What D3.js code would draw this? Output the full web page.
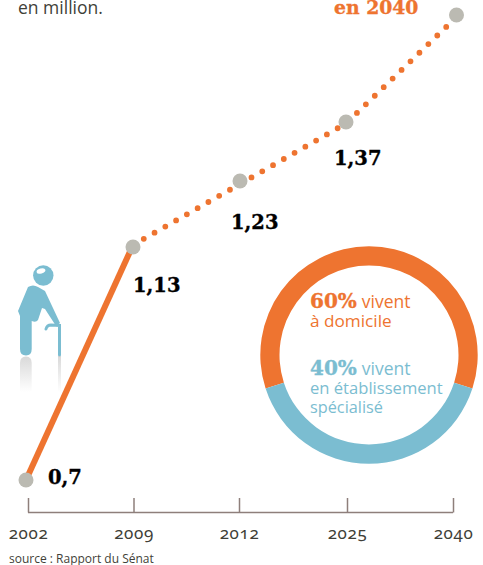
<!DOCTYPE html>
<html>
<head>
<meta charset="utf-8">
<script src="https://cdn.jsdelivr.net/npm/d3@7"></script>
<style>
	html, body { margin: 0; background: #fff; }
	svg { display: block; }
	text { font-family: "Open Sans", "Noto Sans", sans-serif; }
	.slab { font-family: "DejaVu Serif", serif; font-weight: 700; stroke: currentColor; stroke-width: 0.35; }
	.tick text { font-variant-numeric: oldstyle-nums; font-feature-settings: "onum"; }
</style>
</head>
<body>
<figure id="chart" style="margin:0"></figure>
<script>
// values (2040 is not labelled, estimated from the slope)
const years = ["2002", "2009", "2012", "2025", "2040"];
const values = [0.7, 1.13, 1.23, 1.37, 1.62];
const valueLabels = ["0,7", "1,13", "1,23", "1,37", null];
const careShares = [60, 40];

const orange = "#ee7430";
const blue = "#7bbdd1";
const grey = "#bbbab2";
const ink = "#3f3f38";

const svg = d3.select("figure#chart").append("svg")
	.attr("width", 483)
	.attr("height", 565)
	.attr("viewBox", "0 0 483 565");

// the axis is not regular, the drawing is stretched between the years
const xAxisScale = d3.scaleOrdinal().domain(years).range([28, 133.5, 239, 347, 453]);
const xDot = d3.scaleOrdinal().domain(years).range([26, 133, 240, 346, 456.5]);
const yDot = d3.scaleLinear().domain(values).range([480, 247, 181, 122, 15]);
const yLine = d3.scaleLinear().domain(values).range([480, 245, 184, 123.5, 17]);

const rows = years.map((year, i) => ({ year, value: values[i], label: valueLabels[i] }));

const line = d3.line()
	.x((d) => xDot(d.year))
	.y((d) => yLine(d.value));

// solid until 2009, dotted afterwards
svg.append("path")
	.attr("d", line(rows.slice(0, 2)))
	.attr("fill", "none")
	.attr("stroke", orange)
	.attr("stroke-width", 6);

svg.append("path")
	.attr("d", line(rows.slice(1)))
	.attr("fill", "none")
	.attr("stroke", orange)
	.attr("stroke-width", 5.8)
	.attr("stroke-linecap", "round")
	.attr("stroke-dasharray", "0 12.4");

svg.selectAll(".point")
	.data(rows)
	.enter()
	.append("circle")
	.attr("class", "point")
	.attr("cx", (d) => xDot(d.year))
	.attr("cy", (d) => yDot(d.value))
	.attr("r", 7.5)
	.attr("fill", grey);

const labelShift = { "2002": [22, 4], "2009": [0, 45], "2012": [-9, 48], "2025": [-12, 43] };
svg.selectAll(".value")
	.data(rows.filter((d) => d.label))
	.enter()
	.append("text")
	.attr("class", "value slab")
	.attr("x", (d) => xDot(d.year) + labelShift[d.year][0])
	.attr("y", (d) => yDot(d.value) + labelShift[d.year][1])
	.attr("font-size", 19.5)
	.style("color", "#000")
	.attr("fill", "#000")
	.text((d) => d.label);

// axis
const xAxis = svg.append("g")
	.attr("transform", "translate(0,512.5)")
	.call(d3.axisBottom(xAxisScale).tickSizeInner(-14.5).tickSizeOuter(0).tickPadding(14));
xAxis.select(".domain")
	.attr("d", "M28,0H453")
	.attr("stroke", "#8e7f7b")
	.attr("stroke-width", 1.5);
xAxis.selectAll(".tick line").attr("stroke", "#8e7f7b").attr("stroke-width", 1.5);
xAxis.selectAll(".tick text")
	.attr("font-size", 17)
	.attr("fill", ink)
	.style("font-family", '"Noto Sans", sans-serif')
	.style("letter-spacing", "0.6px");

// donut
const pie = d3.pie().sort(null).startAngle(-0.6 * Math.PI).endAngle(1.4 * Math.PI);
const arc = d3.arc().innerRadius(89.5).outerRadius(108.7);
svg.append("g")
	.attr("transform", "translate(369,355)")
	.selectAll("path")
	.data(pie(careShares))
	.enter()
	.append("path")
	.attr("d", arc)
	.attr("fill", (d, i) => (i === 0 ? orange : blue));

function careText(lines, color) {
	lines.forEach((l) => {
		const t = svg.append("text")
			.attr("x", 310)
			.attr("y", l.y)
			.attr("fill", color)
			.style("color", color)
			.attr("font-size", l.size);
		if (l.strong) {
			t.append("tspan").attr("class", "slab").attr("font-size", 20).text(l.strong);
			t.append("tspan").attr("dx", 5).text(l.text);
		} else {
			t.text(l.text);
		}
	});
}
careText([
	{ y: 308, size: 17.5, strong: careShares[0] + "%", text: "vivent" },
	{ y: 327, size: 17.2, text: "à domicile" }
], orange);
careText([
	{ y: 375, size: 17.5, strong: careShares[1] + "%", text: "vivent" },
	{ y: 394, size: 16.6, text: "en établissement" },
	{ y: 413, size: 16.3, text: "spécialisé" }
], blue);

// cropped heading and source
svg.append("text").attr("x", 18).attr("y", 13.5).attr("font-size", 17.5).attr("fill", ink).text("en million.");
svg.append("text").attr("class", "slab").attr("x", 334).attr("y", 14).attr("font-size", 18.8).style("color", orange).attr("fill", orange).text("en 2040");
svg.append("text").attr("x", 9).attr("y", 563).attr("font-size", 12).attr("fill", ink).text("source : Rapport du Sénat");

// old person pictogram
const defs = svg.append("defs");
const fade = defs.append("linearGradient")
	.attr("id", "fade")
	.attr("gradientUnits", "userSpaceOnUse")
	.attr("x1", 0).attr("x2", 0).attr("y1", 356).attr("y2", 392);
fade.append("stop").attr("offset", 0).attr("stop-color", "#b9b9b9").attr("stop-opacity", 0.55);
fade.append("stop").attr("offset", 1).attr("stop-color", "#b9b9b9").attr("stop-opacity", 0);

const person = svg.append("g");
person.append("circle").attr("cx", 43.3).attr("cy", 275.5).attr("r", 10.2).attr("fill", blue);
person.append("ellipse").attr("cx", 41).attr("cy", 271).attr("rx", 4.5).attr("ry", 2.5).attr("fill", "#fff")
	.attr("transform", "rotate(-15 41 271)");
person.append("path")
	.attr("d", "M28,287 Q33,284 38,287 L45,291 L60,323 L56,326 L45,309 L42,308 L38,320 Q36,323 31.7,321 L31.7,349 Q31.7,355.5 26,355.5 Q20,355.5 20,349 L20,316 L18,311 Z")
	.attr("fill", blue);
person.append("path")
	.attr("d", "M46,329 Q47,325 51,325 L59.5,325.5 L59.5,355")
	.attr("fill", "none")
	.attr("stroke", blue)
	.attr("stroke-width", 3)
	.attr("stroke-linecap", "round");

// reflection under the feet
person.append("path")
	.attr("d", "M20,392 L20,363 Q20,356.5 26,356.5 Q31.7,356.5 31.7,363 L31.7,392 Z")
	.attr("fill", "url(#fade)");
person.append("rect").attr("x", 58).attr("y", 356).attr("width", 3).attr("height", 36).attr("fill", "url(#fade)");
</script>
</body>
</html>
